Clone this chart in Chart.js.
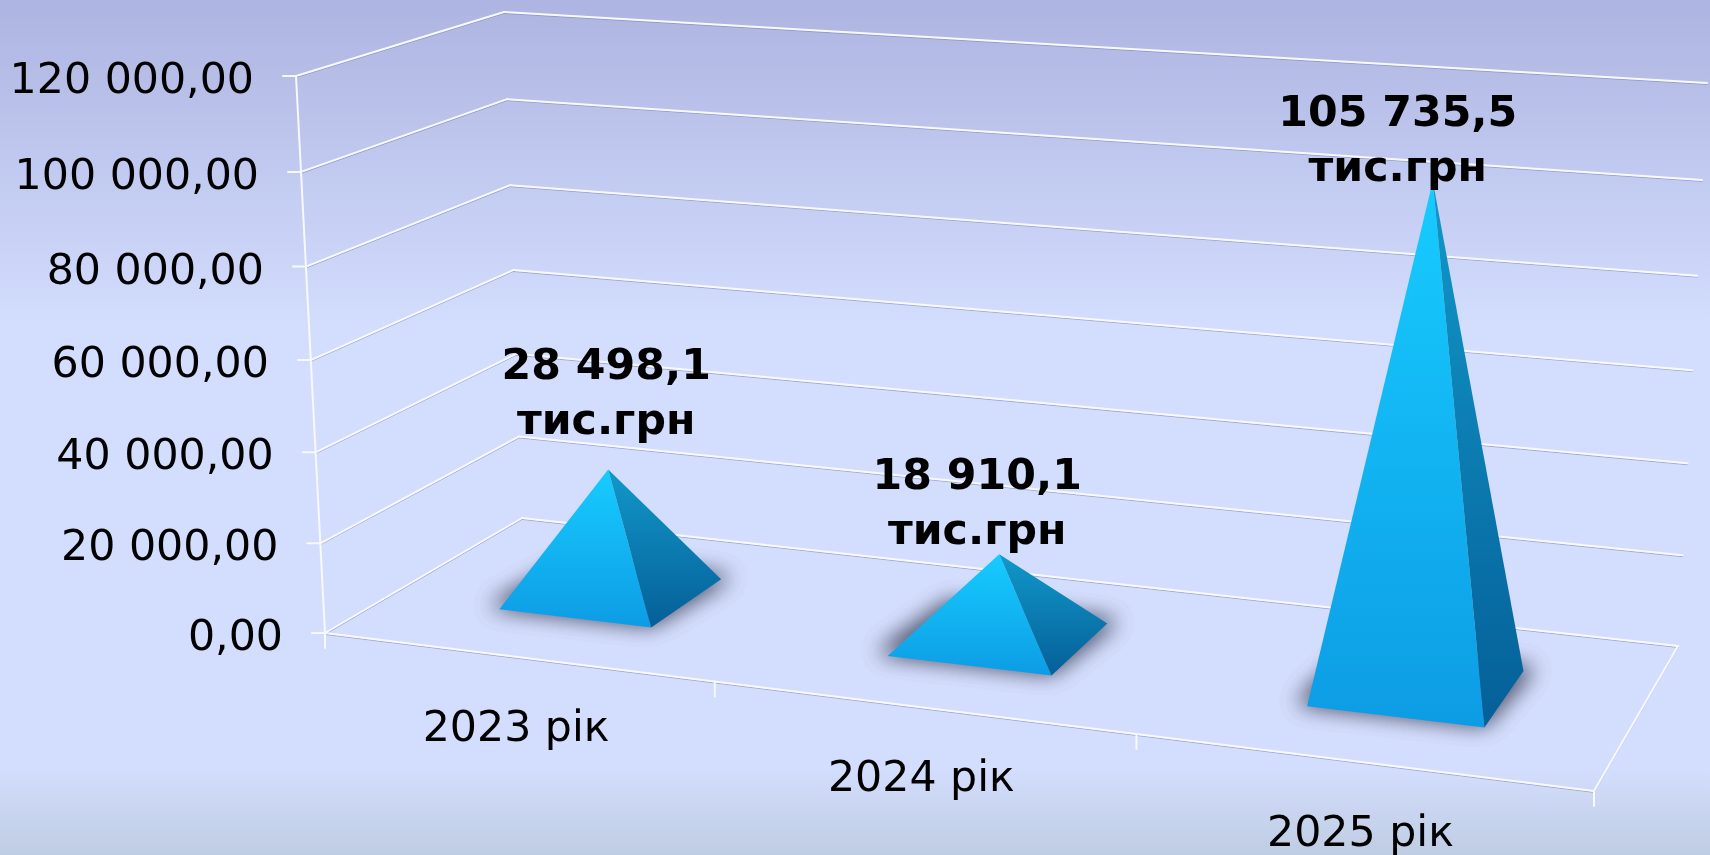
<!DOCTYPE html>
<html>
<head>
<meta charset="utf-8">
<title>Chart</title>
<style>
  html, body { margin: 0; padding: 0; background: #d3ddfd; }
  canvas { display: block; }
</style>
<script src="https://cdn.jsdelivr.net/npm/chart.js@4"></script>
</head>
<body>
<canvas id="chart" width="1710" height="855"></canvas>
<script>
'use strict';
// chart data
var categories = ['2023 рік', '2024 рік', '2025 рік'];
var values = [28498.1, 18910.1, 105735.5];
var valueTexts = ['28 498,1', '18 910,1', '105 735,5'];
var valueUnit = 'тис.грн';
var axisMax = 120000;
var axisStep = 20000;

// corners of the 3d box on screen: a front left, b back left, c back right, d front right
var floorBox = [[325, 633], [522, 518], [1678, 646], [1594, 791]];
var topBox = [[296, 76], [504, 12], [1707, 83], [1618, 178]];
// the labels were moved by hand in the original, so each one has its own offset from the apex
var labelShiftX = [-2, -22, -35];
var labelShiftY = [-47, -21, -11];
var depthFrom = 0.3;
var depthTo = 0.7;
var font = '"DejaVu Sans", Verdana, sans-serif';

// maps the unit square on a quad, (u,w) = (0,0) is a, (0,1) is b, (1,1) is c, (1,0) is d
function quadMapper(q) {
  var x0 = q[0][0], y0 = q[0][1];
  var x1 = q[3][0], y1 = q[3][1];
  var x2 = q[2][0], y2 = q[2][1];
  var x3 = q[1][0], y3 = q[1][1];
  var dx1 = x1 - x2, dx2 = x3 - x2, sx = x0 - x1 + x2 - x3;
  var dy1 = y1 - y2, dy2 = y3 - y2, sy = y0 - y1 + y2 - y3;
  var den = dx1 * dy2 - dx2 * dy1;
  var g = (sx * dy2 - dx2 * sy) / den;
  var h = (dx1 * sy - sx * dy1) / den;
  var a = x1 - x0 + g * x1, b = x3 - x0 + h * x3;
  var d = y1 - y0 + g * y1, e = y3 - y0 + h * y3;
  return function(u, w) {
    var k = g * u + h * w + 1;
    return [(a * u + b * w + x0) / k, (d * u + e * w + y0) / k];
  };
}
var floorAt = quadMapper(floorBox);

// how far the full axis height goes on screen at a floor position
function heightAt(u, w, n) {
  var corner = function(i) { return topBox[i][n] - floorBox[i][n]; };
  return (1 - u) * (1 - w) * corner(0) + (1 - u) * w * corner(1) + u * w * corner(2) + u * (1 - w) * corner(3);
}

// u along the categories, w into the depth, v height 0..1
function project(u, w, v) {
  var f = floorAt(u, w);
  var vv = v - 0.04 * v * (1 - v); // heights shrink a bit towards the floor
  return [f[0] + heightAt(u, w, 0) * vv, f[1] + heightAt(u, w, 1) * vv];
}

function line(ctx, p, q) {
  ctx.beginPath();
  ctx.moveTo(p[0], p[1]);
  ctx.lineTo(q[0], q[1]);
  ctx.stroke();
}

function gridLine(ctx, pts) {
  var i;
  ctx.lineWidth = 1;
  ctx.strokeStyle = 'rgba(120,125,165,0.55)';
  for (i = 0; i < pts.length - 1; i++) {
    line(ctx, [pts[i][0], pts[i][1] + 1.4], [pts[i + 1][0], pts[i + 1][1] + 1.4]);
  }
  ctx.lineWidth = 2;
  ctx.strokeStyle = '#f8f9fe';
  for (i = 0; i < pts.length - 1; i++) {
    line(ctx, pts[i], pts[i + 1]);
  }
}

function faceGradient(ctx, yTop, yBottom, from, to) {
  var g = ctx.createLinearGradient(0, yTop, 0, yBottom);
  g.addColorStop(0, from);
  g.addColorStop(1, to);
  return g;
}

function fillPoly(ctx, pts) {
  ctx.beginPath();
  ctx.moveTo(pts[0][0], pts[0][1]);
  for (var i = 1; i < pts.length; i++) {
    ctx.lineTo(pts[i][0], pts[i][1]);
  }
  ctx.closePath();
  ctx.fill();
}

// only the blur of the base lands on the page, the quad itself is drawn off canvas
function baseShadow(ctx, pts) {
  var far = 3000;
  ctx.save();
  ctx.shadowColor = 'rgba(85,90,115,0.8)';
  ctx.shadowBlur = 22;
  ctx.shadowOffsetX = far;
  ctx.shadowOffsetY = 0;
  ctx.fillStyle = '#000';
  var moved = pts.map(function(p) {
    return [p[0] - far, p[1] - 3];
  });
  fillPoly(ctx, moved);
  fillPoly(ctx, moved);
  ctx.restore();
}

var scenePlugin = {
  id: 'scene',
  beforeDraw: function(chart) {
    var ctx = chart.ctx;
    var g = ctx.createLinearGradient(0, 0, 0, chart.height);
    g.addColorStop(0, '#adb4e1');
    g.addColorStop(0.38, '#d3ddfd');
    g.addColorStop(0.9, '#d3ddfd');
    g.addColorStop(1, '#bfcde3');
    ctx.fillStyle = g;
    ctx.fillRect(0, 0, chart.width, chart.height);
  },
  beforeDatasetsDraw: function(chart) {
    var ctx = chart.ctx;
    var y = chart.scales.y;
    var x = chart.scales.x;
    var area = chart.chartArea;
    ctx.save();
    ctx.lineCap = 'round';
    // walls
    y.ticks.forEach(function(t) {
      var v = (area.bottom - y.getPixelForValue(t.value)) / area.height;
      gridLine(ctx, [project(0, 0, v), project(0, 1, v), project(1, 1, v)]);
    });
    // floor
    gridLine(ctx, [floorAt(0, 0), floorAt(1, 0), floorAt(1, 1)]);
    // front vertical edge with the ticks
    ctx.lineWidth = 2;
    ctx.strokeStyle = '#f8f9fe';
    line(ctx, project(0, 0, 0), project(0, 0, 1));
    y.ticks.forEach(function(t) {
      var v = (area.bottom - y.getPixelForValue(t.value)) / area.height;
      var p = project(0, 0, v);
      line(ctx, p, [p[0] - 13, p[1]]);
    });
    for (var i = 0; i <= categories.length; i++) {
      var p = floorAt(i / categories.length, 0);
      line(ctx, p, [p[0], p[1] + 15]);
    }
    // axis texts
    ctx.fillStyle = '#000';
    ctx.font = '42.7px ' + font;
    ctx.textAlign = 'right';
    ctx.textBaseline = 'middle';
    y.ticks.forEach(function(t) {
      var v = (area.bottom - y.getPixelForValue(t.value)) / area.height;
      var p = project(0, 0, v);
      ctx.fillText(tickText(t.value), p[0] - 42, p[1] + 6);
    });
    ctx.textAlign = 'center';
    categories.forEach(function(c, idx) {
      var u = (x.getPixelForValue(idx) - area.left) / area.width;
      var p = floorAt(u, 0);
      ctx.fillText(x.getLabelForValue(idx), p[0], p[1] + 73);
    });
    ctx.restore();
  },
  afterDatasetsDraw: function(chart) {
    var ctx = chart.ctx;
    var area = chart.chartArea;
    var bars = chart.getDatasetMeta(0).data;
    var apexes = [];
    ctx.save();
    bars.forEach(function(bar) {
      var u0 = (bar.x - bar.width / 2 - area.left) / area.width;
      var u1 = (bar.x + bar.width / 2 - area.left) / area.width;
      var um = (bar.x - area.left) / area.width;
      var v = (bar.base - bar.y) / area.height;
      var fl = floorAt(u0, depthFrom);
      var fr = floorAt(u1, depthFrom);
      var br = floorAt(u1, depthTo);
      var bl = floorAt(u0, depthTo);
      var apex = project(um, (depthFrom + depthTo) / 2, v);
      apexes.push(apex);
      // the shadow reaches further to the sides than to the front
      baseShadow(ctx, [[fl[0] - 10, fl[1]], fr, [br[0] + 10, br[1]], bl]);
      var bottom = fr[1];
      ctx.fillStyle = faceGradient(ctx, apex[1], bottom, '#17ccff', '#0d9ce4');
      fillPoly(ctx, [fl, fr, apex]);
      ctx.fillStyle = faceGradient(ctx, apex[1], bottom, '#1198c9', '#055f98');
      fillPoly(ctx, [fr, br, apex]);
    });
    // value labels on top of everything
    ctx.fillStyle = '#000';
    ctx.font = 'bold 42.7px ' + font;
    ctx.textAlign = 'center';
    ctx.textBaseline = 'middle';
    apexes.forEach(function(a, i) {
      var tx = a[0] + labelShiftX[i];
      var ty = a[1] + labelShiftY[i];
      ctx.fillText(valueUnit, tx, ty);
      ctx.fillText(valueTexts[i], tx, ty - 55);
    });
    ctx.restore();
  }
};

// 120000 -> 120 000,00
function tickText(n) {
  return String(n).replace(/\B(?=(\d{3})+$)/g, ' ') + ',00';
}

var chart = new Chart(document.getElementById('chart').getContext('2d'), {
  type: 'bar',
  data: {
    labels: categories,
    datasets: [{
      data: values,
      backgroundColor: 'rgba(0,0,0,0)',
      barPercentage: 0.4,
      categoryPercentage: 1
    }]
  },
  options: {
    responsive: false,
    animation: false,
    plugins: { legend: { display: false }, tooltip: { enabled: false } },
    scales: {
      x: { display: false },
      y: { display: false, min: 0, max: axisMax, ticks: { stepSize: axisStep } }
    }
  },
  plugins: [scenePlugin]
});
</script>
</body>
</html>
